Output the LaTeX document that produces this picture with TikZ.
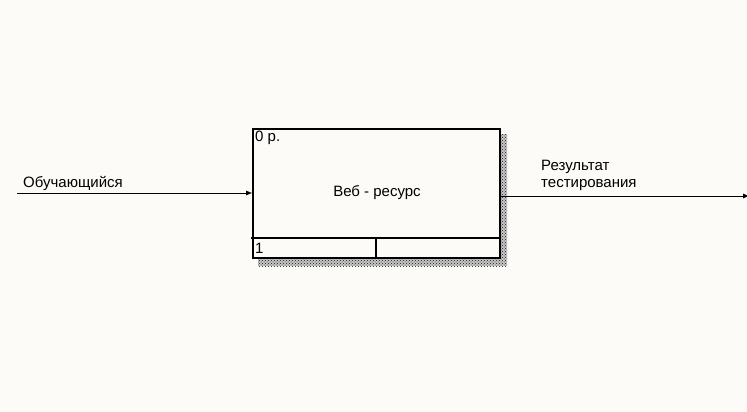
\documentclass[tikz,border=0pt]{standalone}
\usepackage{fontspec}
\setmainfont{Liberation Sans}
\usetikzlibrary{patterns,arrows.meta}
\definecolor{fondo}{HTML}{FDFBF8}
\tikzset{
  flecha/.style={thin, -{Latex[length=6pt,width=5pt]}},
  texto/.style={font=\fontsize{15}{17}\selectfont, inner sep=0pt},
}
\begin{document}
\begin{tikzpicture}[x=1pt, y=-1pt, line cap=rect]

% --- fondo ---
\fill[fondo] (0,0) rectangle (747,412);
\useasboundingbox (0,0) rectangle (747,412);

% --- sombra rayada ---
\fill[gray!45] (258,134) rectangle (507,266);
\fill[pattern=crosshatch dots, pattern color=gray!20!black] (258,134) rectangle (507,266);

% --- bloque ---
\node[draw, line width=1.6pt, fill=fondo, minimum width=247pt, minimum height=129pt,
  inner sep=0pt, anchor=north west] (bloque) at (252,128) {};
\draw[line width=1.6pt] (252,238) -- (499,238);
\draw[line width=1.6pt] (376,238) -- (376,257);
\node[texto, anchor=north west] (num) at (255,131) {0 р.};
\node[texto, anchor=west] (nodo) at (255,248) {1};
\node[texto] (nombre) at (377,193) {Веб - ресурс};

% --- entrada ---
\coordinate (ent) at (17,193);
\draw[flecha] (ent) -- (bloque.west |- ent);
\node[texto, anchor=base west] (lent) at (23,187) {Обучающийся};

% --- salida ---
\coordinate (sal) at (749,196);
\draw[flecha] (bloque.east |- sal) -- (sal);
\node[texto, anchor=west, align=left] (lsal) at (541,175) {Результат\\тестирования};

\end{tikzpicture}
\end{document}
